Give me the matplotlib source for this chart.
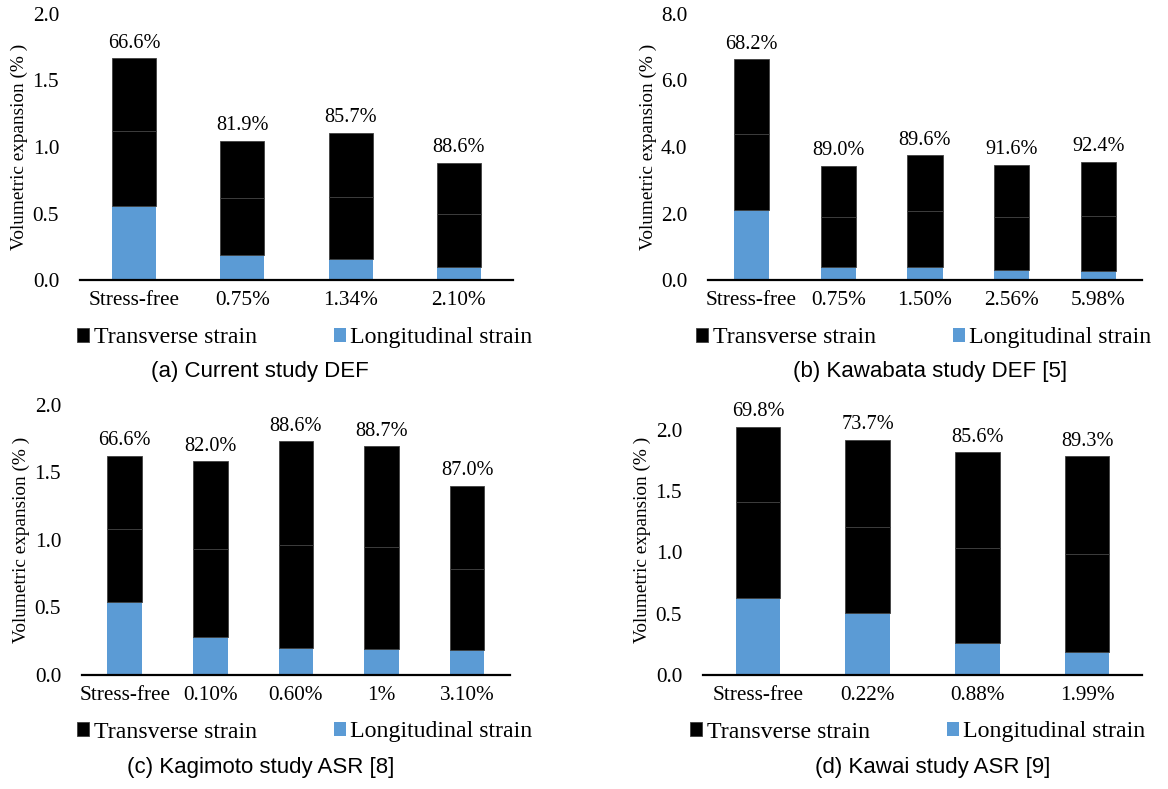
import matplotlib

matplotlib.use("Agg")
import matplotlib.pyplot as plt
import numpy as np

BLUE = "#5B9BD5"
BLACK = "#000000"
EDGE = "#404040"

SERIF = ["Liberation Serif", "DejaVu Serif"]
SANS = ["Liberation Sans", "DejaVu Sans"]

# (a) Current study DEF
cats_a = ["Stress-free", "0.75%", "1.34%", "2.10%"]
long_a = [0.557, 0.189, 0.158, 0.101]
trans1_a = [0.560, 0.425, 0.464, 0.394]
trans2_a = [0.550, 0.431, 0.483, 0.388]
share_a = ["66.6%", "81.9%", "85.7%", "88.6%"]

# (b) Kawabata study DEF [5]
cats_b = ["Stress-free", "0.75%", "1.50%", "2.56%", "5.98%"]
long_b = [2.11, 0.38, 0.39, 0.29, 0.27]
trans1_b = [2.27, 1.52, 1.68, 1.59, 1.64]
trans2_b = [2.26, 1.54, 1.68, 1.59, 1.65]
share_b = ["68.2%", "89.0%", "89.6%", "91.6%", "92.4%"]

# (c) Kagimoto study ASR [8]
cats_c = ["Stress-free", "0.10%", "0.60%", "1%", "3.10%"]
long_c = [0.542, 0.285, 0.197, 0.191, 0.182]
trans1_c = [0.537, 0.646, 0.763, 0.755, 0.606]
trans2_c = [0.543, 0.652, 0.771, 0.748, 0.614]
share_c = ["66.6%", "82.0%", "88.6%", "88.7%", "87.0%"]

# (d) Kawai study ASR [9]
cats_d = ["Stress-free", "0.22%", "0.88%", "1.99%"]
long_d = [0.63, 0.504, 0.261, 0.191]
trans1_d = [0.777, 0.702, 0.773, 0.794]
trans2_d = [0.617, 0.710, 0.781, 0.797]
share_d = ["69.8%", "73.7%", "85.6%", "89.3%"]

fig = plt.figure(figsize=(11.68, 7.89), dpi=100)


def draw_panel(rect, cats, lon, t1, t2, shares, ymax, ystep, caption, cap_x, cap_y, leg_x, leg_y, ytop=None):
    ax = fig.add_axes(rect)
    x = np.arange(len(cats))
    lon = np.array(lon)
    t1 = np.array(t1)
    t2 = np.array(t2)
    w = 0.405
    lb = ax.bar(x, lon, w, color=BLUE, edgecolor="none", zorder=2)
    tb = ax.bar(x, t1, w, bottom=lon, color=BLACK, edgecolor=EDGE, linewidth=0.6, zorder=2)
    ax.bar(x, t2, w, bottom=lon + t1, color=BLACK, edgecolor=EDGE, linewidth=0.6, zorder=2)
    totals = lon + t1 + t2
    for xi, tot, s in zip(x, totals, shares):
        ax.annotate(s, (xi, tot), xytext=(0, 4), textcoords="offset points",
                    ha="center", va="bottom", fontsize=14.6, family=SERIF)

    ax.set_xlim(-0.5, len(cats) - 0.5)
    ax.set_ylim(0, ymax)
    last = ymax if ytop is None else ytop
    ticks = np.arange(0, last + 1e-9, ystep)
    ax.set_yticks(ticks)
    ax.set_yticklabels([f"{v:.1f}" for v in ticks], family=SERIF, fontsize=15.3)
    ax.set_xticks(x)
    ax.set_xticklabels(cats, family=SERIF, fontsize=15.3)
    ax.tick_params(length=0, pad=8)
    ax.tick_params(axis="y", pad=15)
    for side in ["top", "right", "left"]:
        ax.spines[side].set_visible(False)
    ax.spines["bottom"].set_linewidth(1.6)
    ax.spines["bottom"].set_zorder(3)
    ax.set_ylabel("Volumetric expansion (% )", family=SERIF, fontsize=13.9, labelpad=3)

    fig.legend([tb, lb], ["Transverse strain", "Longitudinal strain"],
               loc="center", bbox_to_anchor=(leg_x, leg_y), ncol=2, frameon=False,
               handlelength=0.5, handleheight=0.5, handletextpad=0.2,
               columnspacing=3.2, prop={"family": SERIF, "size": 17.2})
    fig.text(cap_x, cap_y, caption, ha="center", va="center", family=SANS, fontsize=16)
    return ax


draw_panel([0.0685, 0.6451, 0.3707, 0.3372], cats_a, long_a, trans1_a, trans2_a, share_a,
           2.0, 0.5, "(a) Current study DEF", 260 / 1168, 1 - 372 / 789, 305 / 1168, 1 - 338 / 789)
draw_panel([0.6062, 0.6451, 0.3715, 0.3372], cats_b, long_b, trans1_b, trans2_b, share_b,
           8.0, 2.0, "(b) Kawabata study DEF [5]", 930 / 1168, 1 - 372 / 789, 924 / 1168, 1 - 338 / 789)
draw_panel([0.0702, 0.1445, 0.3664, 0.3422], cats_c, long_c, trans1_c, trans2_c, share_c,
           2.0, 0.5, "(c) Kagimoto study ASR [8]", 261 / 1168, 1 - 768 / 789, 305 / 1168, 1 - 732 / 789)
draw_panel([0.6019, 0.1445, 0.3758, 0.3422], cats_d, long_d, trans1_d, trans2_d, share_d,
           2.2, 0.5, "(d) Kawai study ASR [9]", 933 / 1168, 1 - 768 / 789, 918 / 1168, 1 - 732 / 789,
           ytop=2.0)

fig.savefig("out.png", dpi=100, facecolor="white")
